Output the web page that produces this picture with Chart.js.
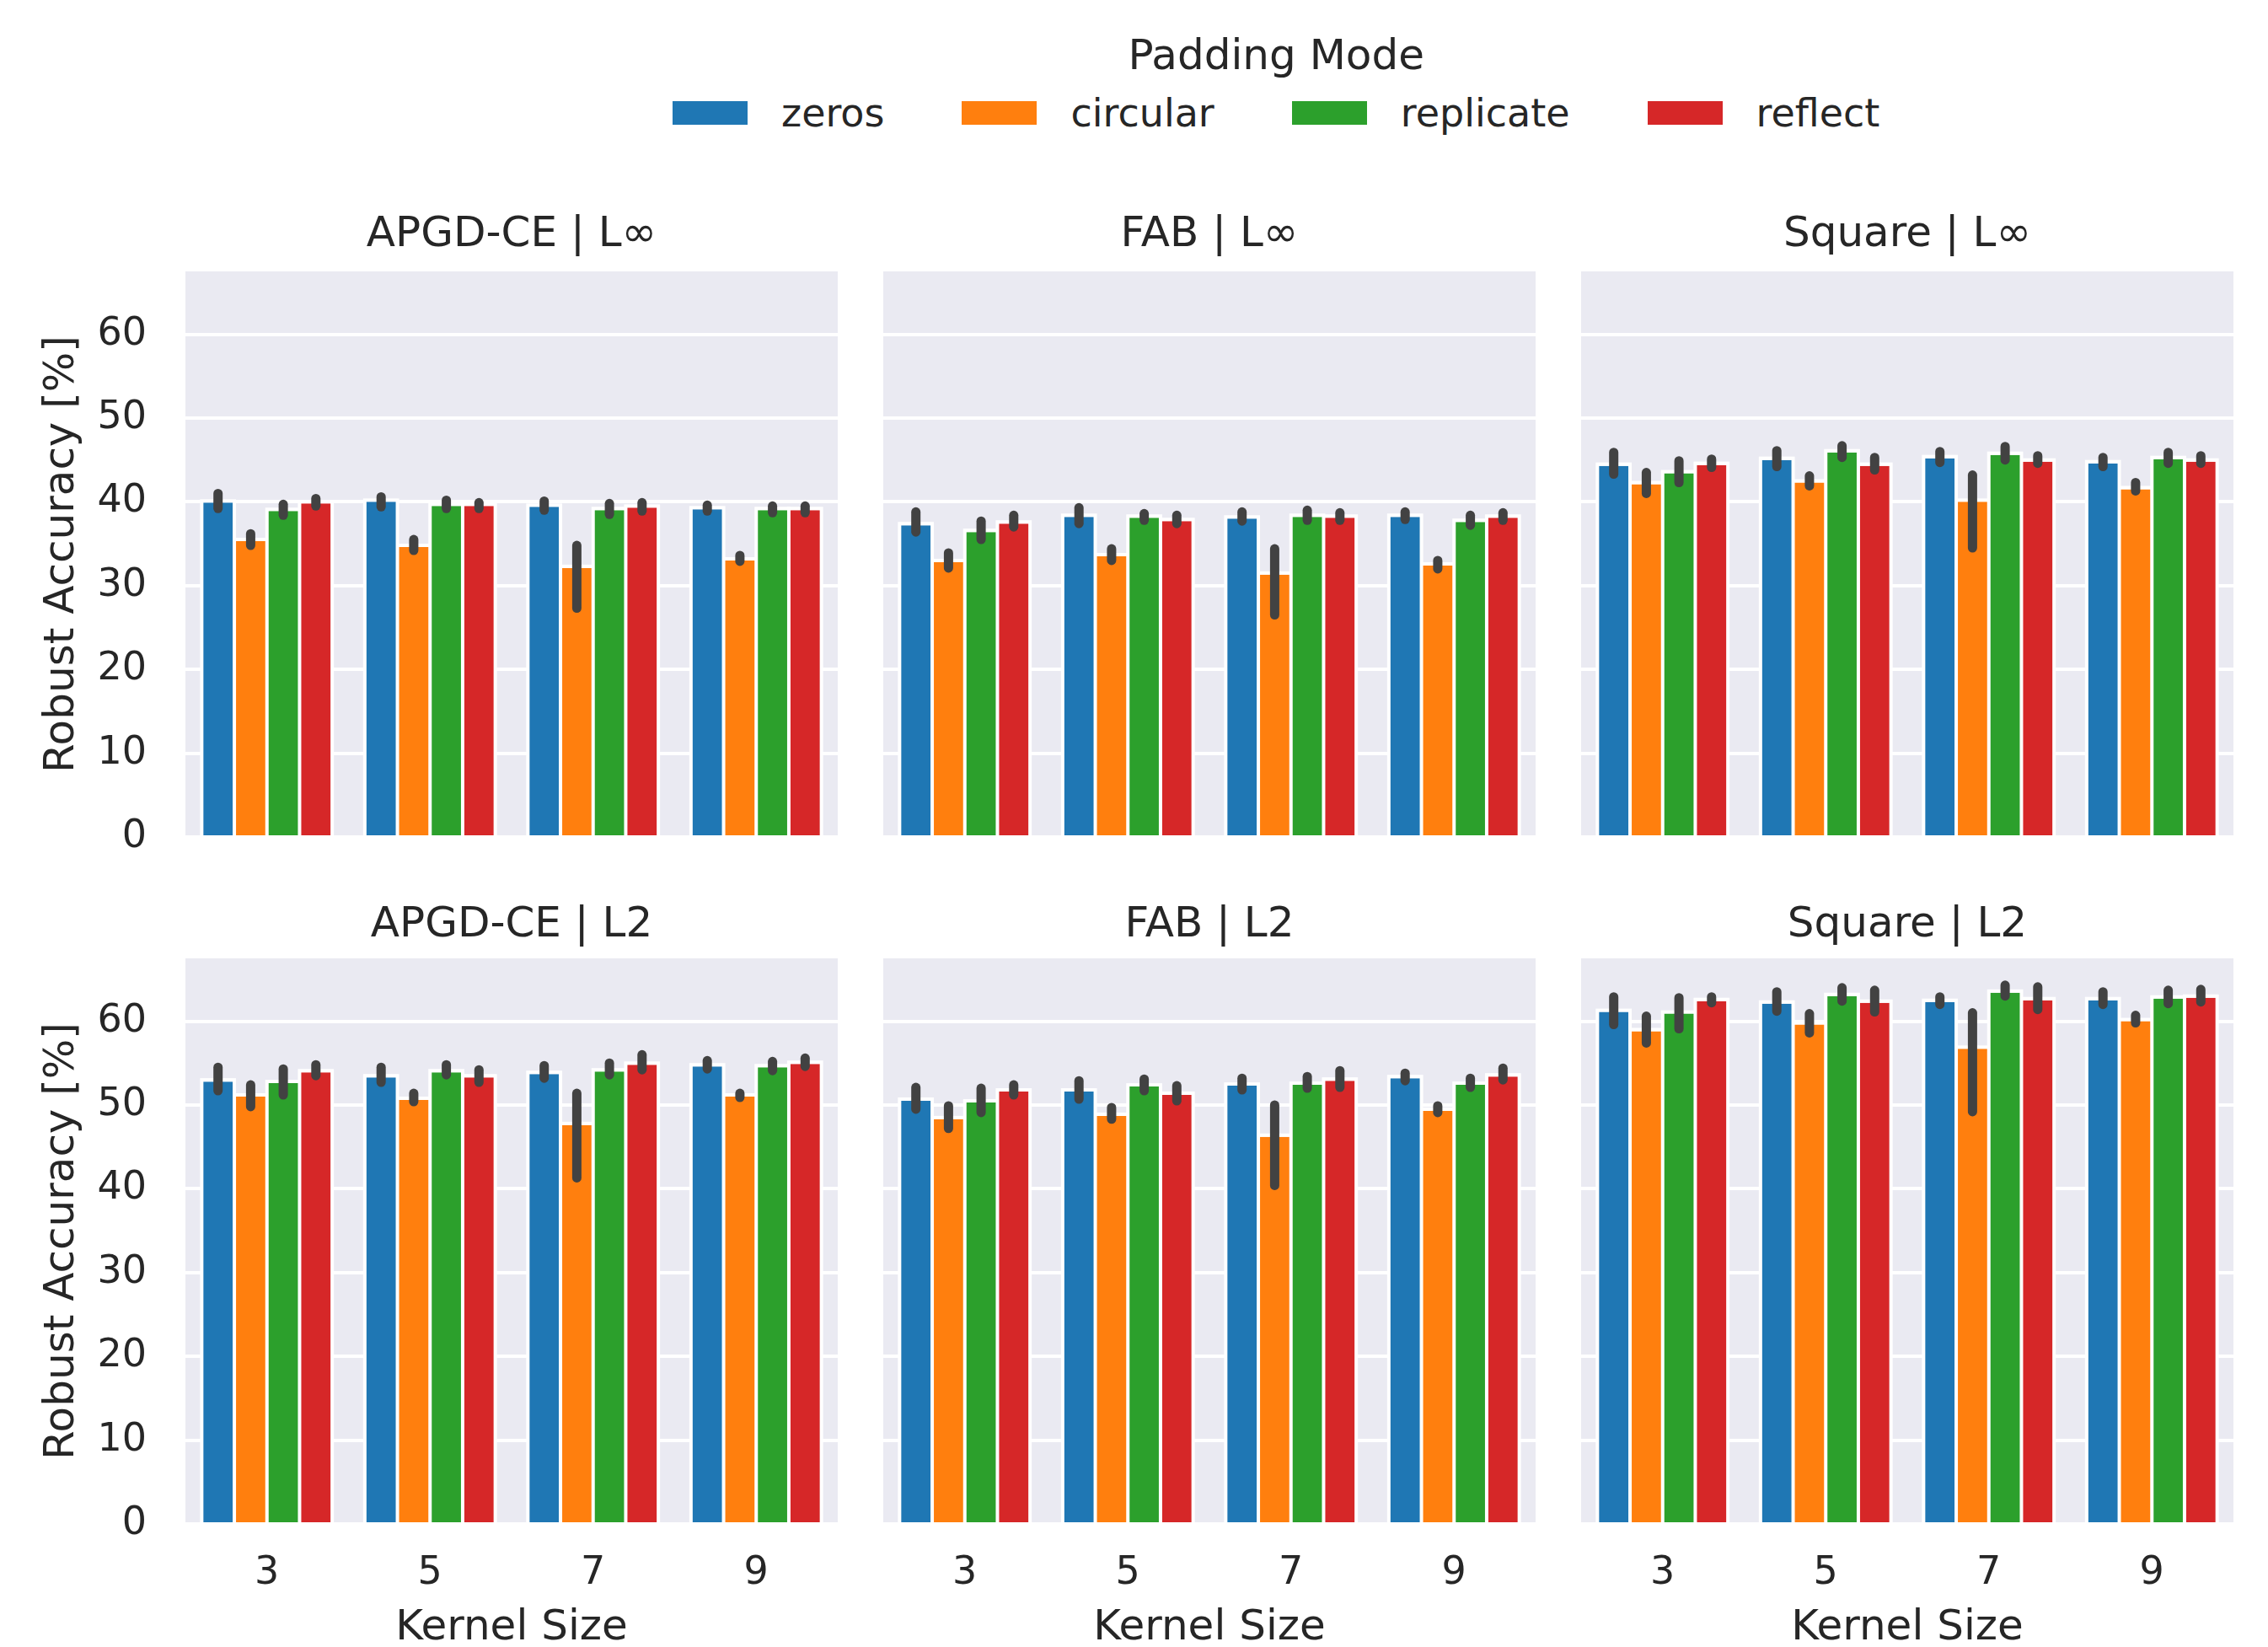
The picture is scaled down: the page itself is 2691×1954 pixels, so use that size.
<!DOCTYPE html>
<html>
<head>
<meta charset="utf-8">
<script src="https://cdn.jsdelivr.net/npm/chart.js@4.4.1/dist/chart.umd.min.js"></script>
<style>
  html, body { margin:0; padding:0; width:2691px; height:1954px; overflow:hidden; background:#ffffff; font-family:"DejaVu Sans", sans-serif; }
  canvas { position:absolute; }
  #legend { position:absolute; left:798px; top:40px; display:inline-flex; flex-direction:column; align-items:center; color:#262626; }
  #legend .ttl { font-size:50px; line-height:50px; height:50px; white-space:nowrap; }
  #legend .row { display:flex; flex-direction:row; align-items:center; margin-top:21px; height:46px; }
  #legend .item { display:flex; align-items:center; margin-right:92px; }
  #legend .item:last-child { margin-right:0; }
  #legend .patch { width:89px; height:28px; margin-right:40px; }
  #legend .lab { font-size:46px; line-height:46px; white-space:nowrap; }
</style>
</head>
<body>
<div id="legend"></div>
<script>
// ---------------- DATA ----------------
const kernelSizes = ['3', '5', '7', '9'];
const paddingModes = ['zeros', 'circular', 'replicate', 'reflect'];
const legendTitle = 'Padding Mode';
const panelTitles = ['APGD-CE | L\u221E', 'FAB | L\u221E', 'Square | L\u221E', 'APGD-CE | L2', 'FAB | L2', 'Square | L2'];
const yAxisTitle = 'Robust Accuracy [%]';
const xAxisTitle = 'Kernel Size';
const yTickValues = [0, 10, 20, 30, 40, 50, 60];

// rows = padding modes (zeros, circular, replicate, reflect); columns = kernel sizes (3, 5, 7, 9)
const apgdLinfMean = [[39.9, 40.0, 39.4, 39.1], [35.3, 34.6, 32.1, 33.0], [38.9, 39.5, 39.0, 39.0], [39.8, 39.5, 39.3, 39.0]];
const apgdLinfLow  = [[39.2, 39.4, 39.0, 38.9], [34.8, 34.2, 27.3, 32.9], [38.4, 39.2, 38.5, 38.7], [39.5, 39.2, 38.9, 38.7]];
const apgdLinfHigh = [[41.0, 40.6, 40.1, 39.6], [36.2, 35.5, 34.8, 33.6], [39.7, 40.2, 39.8, 39.5], [40.4, 39.9, 39.9, 39.5]];

const fabLinfMean = [[37.2, 38.2, 38.0, 38.2], [32.8, 33.5, 31.3, 32.4], [36.4, 38.1, 38.2, 37.6], [37.4, 37.7, 38.1, 38.1]];
const fabLinfLow  = [[36.4, 37.4, 37.7, 37.9], [32.1, 33.0, 26.5, 32.0], [35.5, 37.8, 37.8, 37.2], [37.0, 37.4, 37.8, 37.8]];
const fabLinfHigh = [[38.8, 39.3, 38.8, 38.8], [33.9, 34.4, 34.4, 33.0], [37.7, 38.6, 39.0, 38.4], [38.4, 38.4, 38.7, 38.7]];

const squareLinfMean = [[44.3, 45.0, 45.2, 44.6], [42.1, 42.3, 40.0, 41.5], [43.4, 45.9, 45.6, 45.1], [44.4, 44.3, 44.8, 44.8]];
const squareLinfLow  = [[43.3, 44.2, 44.7, 44.2], [41.0, 41.9, 34.5, 41.3], [42.3, 45.3, 45.0, 44.6], [44.1, 43.8, 44.6, 44.6]];
const squareLinfHigh = [[45.9, 46.1, 46.0, 45.3], [43.5, 43.1, 43.2, 42.3], [44.9, 46.7, 46.6, 45.9], [45.1, 45.3, 45.5, 45.5]];

const apgdL2Mean = [[52.8, 53.3, 53.7, 54.6], [51.0, 50.6, 47.6, 51.0], [52.6, 53.9, 54.0, 54.5], [53.9, 53.3, 54.8, 54.9]];
const apgdL2Low  = [[51.7, 52.7, 53.2, 54.3], [49.8, 50.4, 41.3, 50.9], [51.2, 53.6, 53.6, 54.1], [53.5, 52.7, 54.2, 54.6]];
const apgdL2High = [[54.5, 54.5, 54.7, 55.3], [52.4, 51.4, 51.4, 51.4], [54.3, 54.8, 55.0, 55.2], [54.8, 54.2, 56.0, 55.6]];

const fabL2Mean = [[50.5, 51.6, 52.3, 53.2], [48.3, 48.7, 46.2, 49.3], [50.3, 52.2, 52.4, 52.4], [51.6, 51.2, 52.9, 53.4]];
const fabL2Low  = [[49.5, 50.7, 51.8, 52.9], [47.2, 48.3, 40.4, 49.1], [49.1, 51.7, 52.0, 52.1], [51.2, 50.5, 52.1, 53.0]];
const fabL2High = [[52.1, 52.9, 53.2, 53.8], [49.9, 49.7, 50.0, 49.9], [52.0, 53.1, 53.4, 53.2], [52.4, 52.3, 54.1, 54.4]];

const squareL2Mean = [[61.1, 62.1, 62.3, 62.5], [58.8, 59.6, 56.7, 60.0], [60.9, 63.0, 63.4, 62.7], [62.4, 62.2, 62.5, 62.8]];
const squareL2Low  = [[59.6, 61.2, 62.0, 62.0], [57.4, 58.6, 49.2, 59.8], [59.1, 62.4, 63.0, 62.1], [62.2, 61.1, 61.4, 62.3]];
const squareL2High = [[62.9, 63.5, 62.9, 63.5], [60.6, 60.9, 61.0, 60.7], [62.8, 64.0, 64.3, 63.7], [62.9, 63.7, 64.1, 63.8]];

const yMin = 0;
const yMax = 67.5;

// ---------------- STYLE / LAYOUT ----------------
const modeColors = ['#1f77b4', '#ff7f0e', '#2ca02c', '#d62728'];
const textColor = '#262626';
const panelBg = '#eaeaf2';
const errColor = '#424242';

const panelData = [
  [apgdLinfMean, apgdLinfLow, apgdLinfHigh],
  [fabLinfMean, fabLinfLow, fabLinfHigh],
  [squareLinfMean, squareLinfLow, squareLinfHigh],
  [apgdL2Mean, apgdL2Low, apgdL2High],
  [fabL2Mean, fabL2Low, fabL2High],
  [squareL2Mean, squareL2Low, squareL2High]
];

const colLeft = [0, 1048, 1876];
const plotWidth = 774;
const yAxisWidthFirst = 220;
const rowTop = [249, 1068];
const rowHeight = [784, 897];
const xAxisHeight = [40, 157];
const titlePadBottom = [13, 9];

Chart.defaults.font.family = '"DejaVu Sans", sans-serif';
Chart.defaults.color = textColor;

// legend (HTML)
(function buildLegend() {
  const lg = document.getElementById('legend');
  const t = document.createElement('div'); t.className = 'ttl'; t.textContent = legendTitle; lg.appendChild(t);
  const row = document.createElement('div'); row.className = 'row';
  paddingModes.forEach((m, i) => {
    const it = document.createElement('div'); it.className = 'item';
    const p = document.createElement('div'); p.className = 'patch'; p.style.background = modeColors[i];
    const l = document.createElement('div'); l.className = 'lab'; l.textContent = m;
    it.appendChild(p); it.appendChild(l); row.appendChild(it);
  });
  lg.appendChild(row);
})();

const bgPlugin = {
  id: 'panelBg',
  beforeDraw(chart) {
    const { ctx, chartArea: a } = chart;
    ctx.save();
    ctx.fillStyle = panelBg;
    ctx.fillRect(a.left, a.top, a.right - a.left, a.bottom - a.top);
    ctx.restore();
  }
};

// white bar edges that extend outside the bars (as in the reference)
const edgePlugin = {
  id: 'barEdges',
  beforeDatasetsDraw(chart) {
    const { ctx } = chart;
    ctx.save();
    ctx.fillStyle = '#ffffff';
    chart.data.datasets.forEach((ds, i) => {
      chart.getDatasetMeta(i).data.forEach(bar => {
        const { x, y, base, width } = bar.getProps(['x', 'y', 'base', 'width'], true);
        ctx.fillRect(x - width / 2 - 2, y - 4, width + 4, base - y + 4);
      });
    });
    ctx.restore();
  }
};

const errPlugin = {
  id: 'errBars',
  afterDatasetsDraw(chart) {
    const { ctx } = chart;
    const y = chart.scales.y;
    ctx.save();
    ctx.strokeStyle = errColor;
    ctx.lineWidth = 11;
    ctx.lineCap = 'round';
    chart.data.datasets.forEach((ds, i) => {
      const meta = chart.getDatasetMeta(i);
      meta.data.forEach((bar, j) => {
        ctx.beginPath();
        ctx.moveTo(bar.x, y.getPixelForValue(ds.errLow[j]));
        ctx.lineTo(bar.x, y.getPixelForValue(ds.errHigh[j]));
        ctx.stroke();
      });
    });
    ctx.restore();
  }
};

panelTitles.forEach((title, p) => {
  const row = Math.floor(p / 3), col = p % 3;
  const first = col === 0;
  const bottom = row === 1;
  const cv = document.createElement('canvas');
  const w = plotWidth + (first ? yAxisWidthFirst : 0);
  cv.width = w; cv.height = rowHeight[row];
  cv.style.left = colLeft[col] + 'px';
  cv.style.top = rowTop[row] + 'px';
  cv.style.width = w + 'px'; cv.style.height = rowHeight[row] + 'px';
  document.body.appendChild(cv);

  const [mean, low, high] = panelData[p];
  const datasets = paddingModes.map((m, i) => ({
    label: m,
    data: mean[i],
    errLow: low[i],
    errHigh: high[i],
    backgroundColor: modeColors[i],
    borderColor: '#ffffff',
    borderWidth: { top: 0, bottom: 0, left: 2, right: 2 },
    borderSkipped: false,
    categoryPercentage: 0.8,
    barPercentage: 1.0
  }));

  new Chart(cv, {
    type: 'bar',
    data: { labels: kernelSizes, datasets },
    plugins: [bgPlugin, edgePlugin, errPlugin],
    options: {
      responsive: false,
      animation: false,
      devicePixelRatio: 1,
      layout: { padding: 0 },
      plugins: {
        legend: { display: false },
        tooltip: { enabled: false },
        title: {
          display: true, text: title, fullSize: false,
          font: { size: 50, weight: 'normal', lineHeight: 1.2 },
          color: textColor,
          padding: { top: 0, bottom: titlePadBottom[row] }
        }
      },
      scales: {
        x: {
          offset: true,
          grid: { display: false, drawTicks: false },
          border: { display: false },
          ticks: { display: bottom, font: { size: 46 }, color: textColor, padding: 31, maxRotation: 0, autoSkip: false },
          title: { display: bottom, text: xAxisTitle, font: { size: 50, lineHeight: 1.2 }, color: textColor, padding: { top: 0, bottom: 3 } },
          afterFit(s) { s.height = xAxisHeight[row]; s.paddingLeft = 0; s.paddingRight = 0; }
        },
        y: {
          min: yMin, max: yMax,
          grid: { color: '#ffffff', lineWidth: 4, drawTicks: false },
          border: { display: false },
          afterBuildTicks(s) { s.ticks = yTickValues.map(v => ({ value: v })); },
          ticks: { display: first, font: { size: 46 }, color: textColor, padding: 46 },
          title: { display: first, text: yAxisTitle, font: { size: 50, lineHeight: 1.2 }, color: textColor, padding: { top: 44, bottom: 0 } },
          afterFit(s) { s.width = first ? yAxisWidthFirst : 0; s.paddingTop = 0; s.paddingBottom = 0; }
        }
      }
    }
  });
});
</script>
</body>
</html>
